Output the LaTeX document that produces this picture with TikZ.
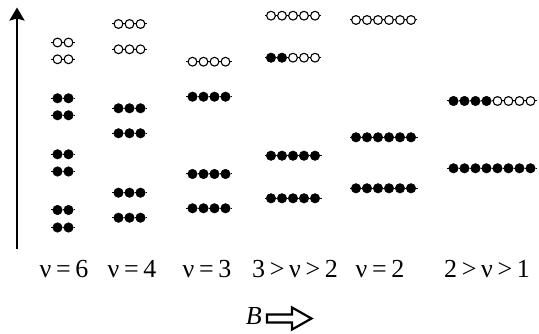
\documentclass[tikz,border=0pt]{standalone}
\usepackage{fontspec}
\setmainfont{Liberation Serif}
\usetikzlibrary{arrows.meta}
\newcommand\curnf{0}
\newcommand\dotrow[5]{%
  \pgfmathtruncatemacro\ntot{#4+#5}%
  \renewcommand\curnf{#4}%
  \foreach \k in {1,...,\ntot}{%
    \node[dotsty=\k] (#1-\k) at ({#2+11*(\k-1)},#3) {};
  }%
  \foreach \k [remember=\k as \lastk (initially 1)] in {2,...,\ntot}{%
    \draw[conn] (#1-\lastk) -- (#1-\k);
  }%
  \draw[conn] (#1-1.west) -- ++(-1.5,0);
  \draw[conn] (#1-\ntot.east) -- ++(1.5,0);
}
\newcommand\gp{\kern0.18em}
\begin{document}
\begin{tikzpicture}[x=1pt,y=-1pt,
  conn/.style={line width=1pt},
  fdot/.style={circle,fill=black,draw=black,line width=0.5pt,minimum size=9.5pt,inner sep=0pt},
  odot/.style={circle,fill=white,draw=black,line width=1.1pt,minimum size=8.8pt,inner sep=0pt},
  dotsty/.code={\ifnum#1>\curnf\relax\tikzset{odot}\else\tikzset{fdot}\fi},
  lbl/.style={anchor=base,font=\fontsize{26}{26}\selectfont,inner sep=0pt},
  axis/.style={line width=2.5pt,-{Stealth[length=13pt,width=15pt,inset=2pt]}},
  blockarrow/.style={draw=black,line width=2.2pt,fill=white,line join=miter}
]
\useasboundingbox (0,0) rectangle (539,334);
% axis
\coordinate (ax0) at (17,249);
\coordinate (ax1) at (17,7.5);
\draw[axis] (ax0) -- (ax1);
% column nu=6
\dotrow{a1}{57.5}{42.5}{0}{2}
\dotrow{a2}{57.5}{59.3}{0}{2}
\dotrow{a3}{57.5}{98.3}{2}{0}
\dotrow{a4}{57.5}{115.3}{2}{0}
\dotrow{a5}{57.5}{154.3}{2}{0}
\dotrow{a6}{57.5}{171.5}{2}{0}
\dotrow{a7}{57.5}{210}{2}{0}
\dotrow{a8}{57.5}{227.5}{2}{0}
% column nu=4
\dotrow{b1}{118.5}{24}{0}{3}
\dotrow{b2}{118.5}{49.3}{0}{3}
\dotrow{b3}{118.5}{108.3}{3}{0}
\dotrow{b4}{118.5}{133.3}{3}{0}
\dotrow{b5}{118.5}{192.7}{3}{0}
\dotrow{b6}{118.5}{217.7}{3}{0}
% column nu=3
\dotrow{c1}{192.5}{61.7}{0}{4}
\dotrow{c2}{192.5}{96.7}{4}{0}
\dotrow{c3}{192.5}{174}{4}{0}
\dotrow{c4}{192.5}{208.3}{4}{0}
% column 3>nu>2
\dotrow{d1}{271}{15.7}{0}{5}
\dotrow{d2}{271}{57.7}{2}{3}
\dotrow{d3}{271}{155.7}{5}{0}
\dotrow{d4}{271}{198.3}{5}{0}
% column nu=2
\dotrow{e1}{356}{20}{0}{6}
\dotrow{e2}{356}{137.3}{6}{0}
\dotrow{e3}{356}{188.3}{6}{0}
% column 2>nu>1
\dotrow{f1}{453.5}{101}{4}{4}
\dotrow{f2}{453.5}{168.3}{8}{0}
% labels
\node[lbl] (l1) at (64,278) {ν\gp=\gp{}6};
\node[lbl] (l2) at (132,278) {ν\gp=\gp{}4};
\node[lbl] (l3) at (207,278) {ν\gp=\gp{}3};
\node[lbl] (l4) at (295,278) {3\gp>\gp{}ν\gp>\gp{}2};
\node[lbl] (l5) at (380,278) {ν\gp=\gp{}2};
\node[lbl] (l6) at (487,278) {2\gp>\gp{}ν\gp>\gp{}1};
% B and block arrow
\node[lbl,anchor=base east] (bl) at (262,325) {\itshape B};
\draw[blockarrow] (267,314.5) -- (292,314.5) -- (292,307.5) -- (311.5,318.5) -- (292,329.5) -- (292,322.5) -- (267,322.5) -- cycle;
\end{tikzpicture}
\end{document}
